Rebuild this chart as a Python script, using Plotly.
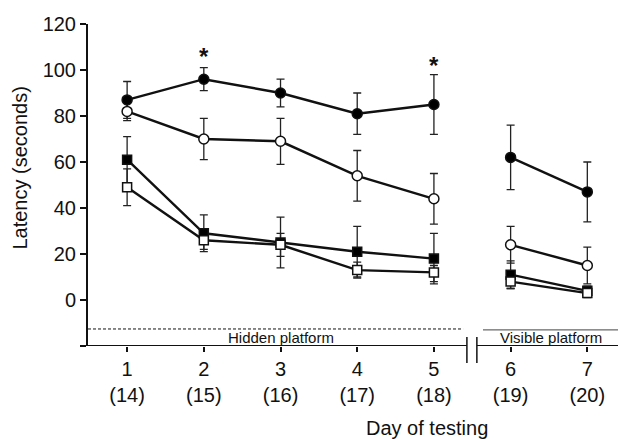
import plotly.graph_objects as go

days = [1, 2, 3, 4, 5, 6, 7]
day_labels = ["1<br>(14)", "2<br>(15)", "3<br>(16)", "4<br>(17)", "5<br>(18)", "6<br>(19)", "7<br>(20)"]

# series: mean, upper error limit, lower error limit
filled_circle = [87, 96, 90, 81, 85, 62, 47]
filled_circle_hi = [95, 101, 96, 90, 98, 76, 60]
filled_circle_lo = [79, 91, 84, 72, 72, 48, 34]

open_circle = [82, 70, 69, 54, 44, 24, 15]
open_circle_hi = [86, 79, 79, 65, 55, 32, 23]
open_circle_lo = [78, 61, 59, 43, 33, 16, 7]

filled_square = [61, 29, 25, 21, 18, 11, 4]
filled_square_hi = [71, 37, 36, 32, 29, 17, 6]
filled_square_lo = [51, 22, 14, 10, 8, 5, 2]

open_square = [49, 26, 24, 13, 12, 8, 3]
open_square_hi = [57, 31, 29, 16.5, 15, 11, 5]
open_square_lo = [41, 21, 19, 9.5, 7, 5, 1]

y_ticks = [-20, 0, 20, 40, 60, 80, 100, 120]
y_ticktext = ["", "0", "20", "40", "60", "80", "100", "120"]

star_days = [2, 5]
star_y = [106, 101.8]

FONT = "Liberation Sans, Arial, sans-serif"

series = [
    (filled_circle, filled_circle_hi, filled_circle_lo, "circle", "black"),
    (filled_square, filled_square_hi, filled_square_lo, "square", "black"),
    (open_circle, open_circle_hi, open_circle_lo, "circle", "white"),
    (open_square, open_square_hi, open_square_lo, "square", "white"),
]

fig = go.Figure()

# error bars first (beneath all markers)
for m, hi, lo, sym, fill in series:
    fig.add_trace(go.Scatter(
        x=days, y=m, mode="markers",
        marker=dict(opacity=0, size=2),
        error_y=dict(type="data", symmetric=False,
                     array=[h - v for h, v in zip(hi, m)],
                     arrayminus=[v - l for v, l in zip(m, lo)],
                     color="#222", thickness=1.3, width=4),
        showlegend=False, hoverinfo="skip"))

# lines + markers, two segments (hidden / visible platform)
for m, hi, lo, sym, fill in series:
    for seg in (slice(0, 5), slice(5, 7)):
        fig.add_trace(go.Scatter(
            x=days[seg], y=m[seg], mode="lines+markers",
            line=dict(color="#111", width=2.4),
            marker=dict(symbol=sym, size=10 if sym == "circle" else 9,
                        color=fill, line=dict(color="#111", width=1.5)),
            showlegend=False))

shapes = [
    # x axis line with break
    dict(type="line", xref="x", yref="y", x0=0.49, x1=5.43, y0=-20, y1=-20,
         line=dict(color="#111", width=2)),
    dict(type="line", xref="x", yref="y", x0=5.56, x1=7.4, y0=-20, y1=-20,
         line=dict(color="#111", width=2)),
    dict(type="line", xref="x", yref="paper", x0=5.43, x1=5.43, y0=0.028, y1=-0.053,
         line=dict(color="#111", width=1.5)),
    dict(type="line", xref="x", yref="paper", x0=5.56, x1=5.56, y0=0.028, y1=-0.053,
         line=dict(color="#111", width=1.5)),
    # phase markers
    dict(type="line", xref="x", yref="y", x0=0.49, x1=5.38, y0=-12.6, y1=-12.6,
         line=dict(color="#111", width=1, dash="3px,2px")),
    dict(type="line", xref="x", yref="y", x0=5.64, x1=7.4, y0=-13, y1=-13,
         line=dict(color="#444", width=1)),
]

annotations = [
    dict(text="Hidden platform", x=3.0, y=-16.2, xref="x", yref="y", showarrow=False,
         font=dict(family=FONT, size=15, color="#111")),
    dict(text="Visible platform", x=6.53, y=-16.2, xref="x", yref="y", showarrow=False,
         font=dict(family=FONT, size=15, color="#111")),
    dict(text="Day of testing", x=0.64, y=-0.255, xref="paper", yref="paper",
         xanchor="center", yanchor="middle",
         showarrow=False, font=dict(family=FONT, size=20, color="#111")),
    dict(text="Latency (seconds)", x=-0.129, y=0.553, xref="paper", yref="paper",
         xanchor="center", yanchor="middle",
         textangle=-90, showarrow=False, font=dict(family=FONT, size=20, color="#111")),
]
for d, yv in zip(star_days, star_y):
    annotations.append(dict(text="<b>*</b>", x=d, y=yv, xref="x", yref="y", showarrow=False,
                            font=dict(family=FONT, size=24, color="#111")))

fig.update_layout(
    width=618, height=439,
    margin=dict(l=88, r=0, t=24, b=93),
    paper_bgcolor="white", plot_bgcolor="white",
    font=dict(family=FONT, color="#111"),
    shapes=shapes, annotations=annotations,
    xaxis=dict(range=[0.49, 7.4], tickvals=days, ticktext=day_labels,
               showline=False, showgrid=False, zeroline=False,
               ticks="outside", ticklen=5, tickwidth=2, tickcolor="#111",
               tickfont=dict(family=FONT, size=20, color="#111")),
    yaxis=dict(range=[-20, 120], tickvals=y_ticks, ticktext=y_ticktext,
               showline=True, linecolor="#111", linewidth=2,
               showgrid=False, zeroline=False,
               ticks="outside", ticklen=6, tickwidth=2, tickcolor="#111",
               tickfont=dict(family=FONT, size=20, color="#111")),
)

fig.write_html("out.html")
